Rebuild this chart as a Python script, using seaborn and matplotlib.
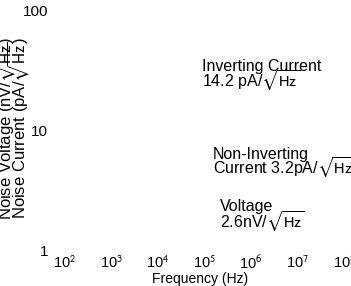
import matplotlib
matplotlib.use("Agg")
import matplotlib.pyplot as plt
import seaborn as sns

# tick values
x_decades = [2, 3, 4, 5, 6, 7, 8]
y_ticks = [1, 10, 100]

HZ = r"$\sqrt{\mathrm{Hz}}$"

# annotation text (two lines each)
inv_current = ["Inverting Current", "14.2 pA/" + HZ]
noninv_current = ["Non-Inverting", "Current 3.2pA/" + HZ]
voltage = ["Voltage", "2.6nV/" + HZ]

ylabel_lines = ["Noise Voltage (nV/" + HZ + ")",
                "Noise Current (pA/" + HZ + ")"]
xlabel = "Frequency (Hz)"

W, H = 351, 286

sns.set_theme(style="white")
plt.rcParams['font.family'] = ['Liberation Sans', 'DejaVu Sans']
plt.rcParams['mathtext.fontset'] = 'stixsans'


def fx(px):
    return px / W


def fy(py):
    return 1 - py / H


fig = plt.figure(figsize=(W / 100, H / 100), dpi=100)
ax = fig.add_axes([fx(65), fy(250), (344 - 65) / W, (250 - 11) / H])
ax.set_xscale('log')
ax.set_yscale('log')
ax.set_xlim(10 ** x_decades[0], 10 ** x_decades[-1])
ax.set_ylim(y_ticks[0], y_ticks[-1])
ax.set_xticks([10 ** d for d in x_decades])
ax.set_xticklabels([r"10$^{%d}$" % d for d in x_decades])
ax.set_yticks(y_ticks)
ax.set_yticklabels([str(v) for v in y_ticks])
ax.minorticks_off()
ax.tick_params(axis='x', length=0, pad=3.5, labelsize=10.5, colors='black')
ax.tick_params(axis='y', length=0, pad=12, labelsize=11, colors='black')
ax.grid(False)
sns.despine(ax=ax, left=True, bottom=True)

# annotations, line by line
blocks = [(inv_current, 202, [70.5, 87]),
          (noninv_current, 213, [158.5, 174]),
          (voltage, 220, [211.5, 227.5])]
for lines, x0, ys in blocks:
    for txt, yb in zip(lines, ys):
        fig.text(fx(x0), fy(yb), txt, fontsize=11.5, ha='left', va='baseline',
                 color='black')

# two-line y label
for txt, xb in zip(ylabel_lines, [11, 25]):
    fig.text(fx(xb), fy(128), txt, rotation=90, rotation_mode='anchor',
             ha='center', va='baseline', fontsize=12, color='black')

fig.text(fx(200), fy(283), xlabel, ha='center', va='baseline', fontsize=10,
         color='black')

fig.savefig('out.png', dpi=100)
